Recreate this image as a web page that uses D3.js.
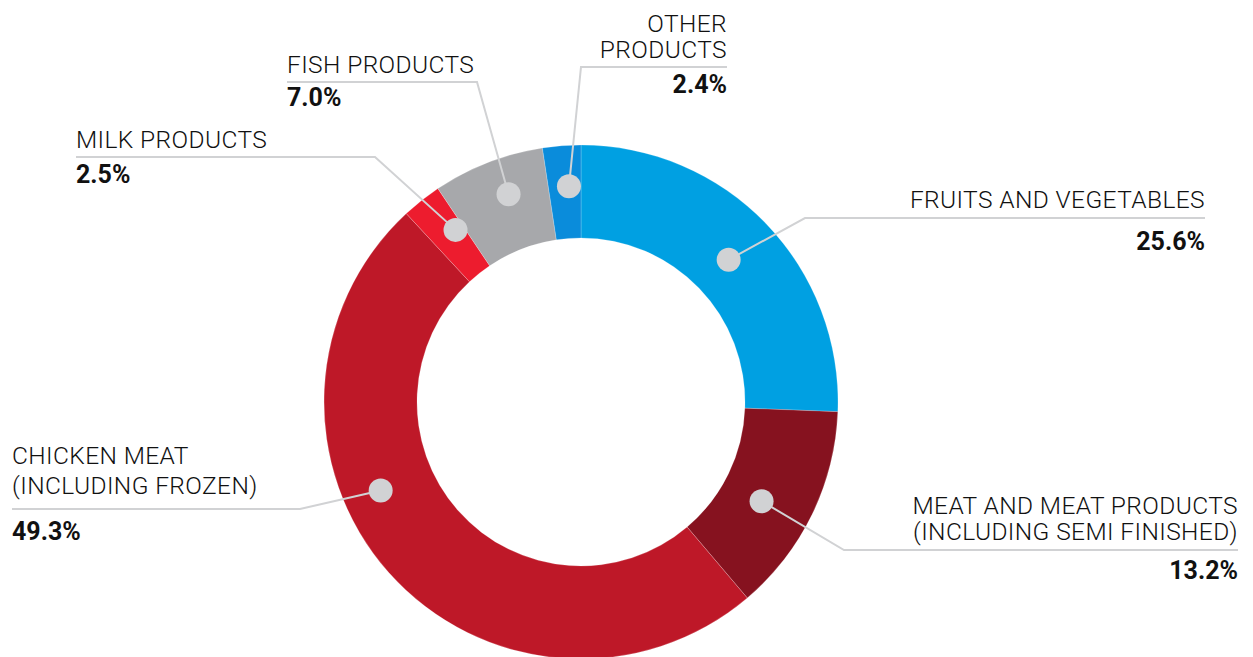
<!DOCTYPE html>
<meta charset="utf-8">
<head>
<style>
body { margin: 0; background: #fff; }
text { font-family: Roboto, "Open Sans", sans-serif; fill: #111; }
.name { font-size: 24.5px; font-weight: 300; letter-spacing: 0.4px; }
.value { font-size: 25px; font-weight: 700; }
.leader { fill: none; stroke: #d1d2d4; stroke-width: 2px; }
</style>
</head>
<body>
<svg width="1253" height="657"></svg>
<script src="https://cdn.jsdelivr.net/npm/d3@7"></script>
<script>
// slices, clockwise from 12 o'clock
var categories = ["Fruits and vegetables", "Meat and meat products", "Chicken meat", "Milk products", "Fish products", "Other products"];
var labelLines = [
  ["FRUITS AND VEGETABLES"],
  ["MEAT AND MEAT PRODUCTS", "(INCLUDING SEMI FINISHED)"],
  ["CHICKEN MEAT", "(INCLUDING FROZEN)"],
  ["MILK PRODUCTS"],
  ["FISH PRODUCTS"],
  ["OTHER", "PRODUCTS"]
];
var shares = [25.6, 13.2, 49.3, 2.5, 7.0, 2.4];
var colors = ["#00a0e2", "#86121f", "#be1828", "#ed1c2e", "#a7a8ab", "#0a8cdb"];

// label placement (hand-tuned like the original)
var layout = [
  {frac: 0.5,  r: 205, elbow: [805, 218], end: 1205, anchor: "end",   names: [208],      value: 250},
  {frac: 0.56, r: 206, elbow: [844, 550], end: 1238, anchor: "end",   names: [514, 540], value: 579},
  {frac: 0.6,  r: 219, elbow: [300, 509], end: 12,   anchor: "start", names: [464, 494], value: 540},
  {frac: 0.75, r: 213, elbow: [375, 157], end: 76,   anchor: "start", names: [148],      value: 183},
  {frac: 0.58, r: 220, elbow: [477, 82],  end: 287,  anchor: "start", names: [73],       value: 106},
  {frac: 0.63, r: 216, elbow: [581, 67],  end: 727,  anchor: "end",   names: [32, 58],   value: 93}
];

var svg = d3.select("svg"),
    cx = 581, cy = 402,
    outer = 257, inner = 164;

var pie = d3.pie().sort(null).value(function(d) { return d; });
var arcs = pie(shares);
var arc = d3.arc().innerRadius(inner).outerRadius(outer);

var g = svg.append("g").attr("transform", "translate(" + cx + "," + cy + ")");

g.selectAll("path.slice")
    .data(arcs)
  .enter().append("path")
    .attr("class", "slice")
    .attr("d", arc)
    .attr("fill", function(d, i) { return colors[i]; })
    .attr("stroke", "rgba(255,255,255,0.35)")
    .attr("stroke-width", 0.6);

function dotPos(d, i) {
  var L = layout[i],
      a = d.startAngle + (d.endAngle - d.startAngle) * L.frac;
  return [cx + L.r * Math.sin(a), cy - L.r * Math.cos(a)];
}

var labels = svg.selectAll("g.label")
    .data(arcs)
  .enter().append("g")
    .attr("class", "label");

labels.append("path")
    .attr("class", "leader")
    .attr("d", function(d, i) {
      var L = layout[i], p = dotPos(d, i);
      return d3.line()([p, L.elbow, [L.end, L.elbow[1]]]);
    });

labels.append("circle")
    .attr("cx", function(d, i) { return dotPos(d, i)[0]; })
    .attr("cy", function(d, i) { return dotPos(d, i)[1]; })
    .attr("r", 12)
    .attr("fill", "#d1d2d4");

labels.each(function(d, i) {
  var L = layout[i], sel = d3.select(this);
  labelLines[i].forEach(function(t, k) {
    sel.append("text")
        .attr("class", "name")
        .attr("x", L.end)
        .attr("y", L.names[k])
        .attr("text-anchor", L.anchor)
        .text(t);
  });
  sel.append("text")
      .attr("class", "value")
      .attr("x", L.end)
      .attr("y", L.value)
      .attr("text-anchor", L.anchor)
      .text(d3.format(".1f")(d.data) + "%");
});
</script>
</body>
</html>
